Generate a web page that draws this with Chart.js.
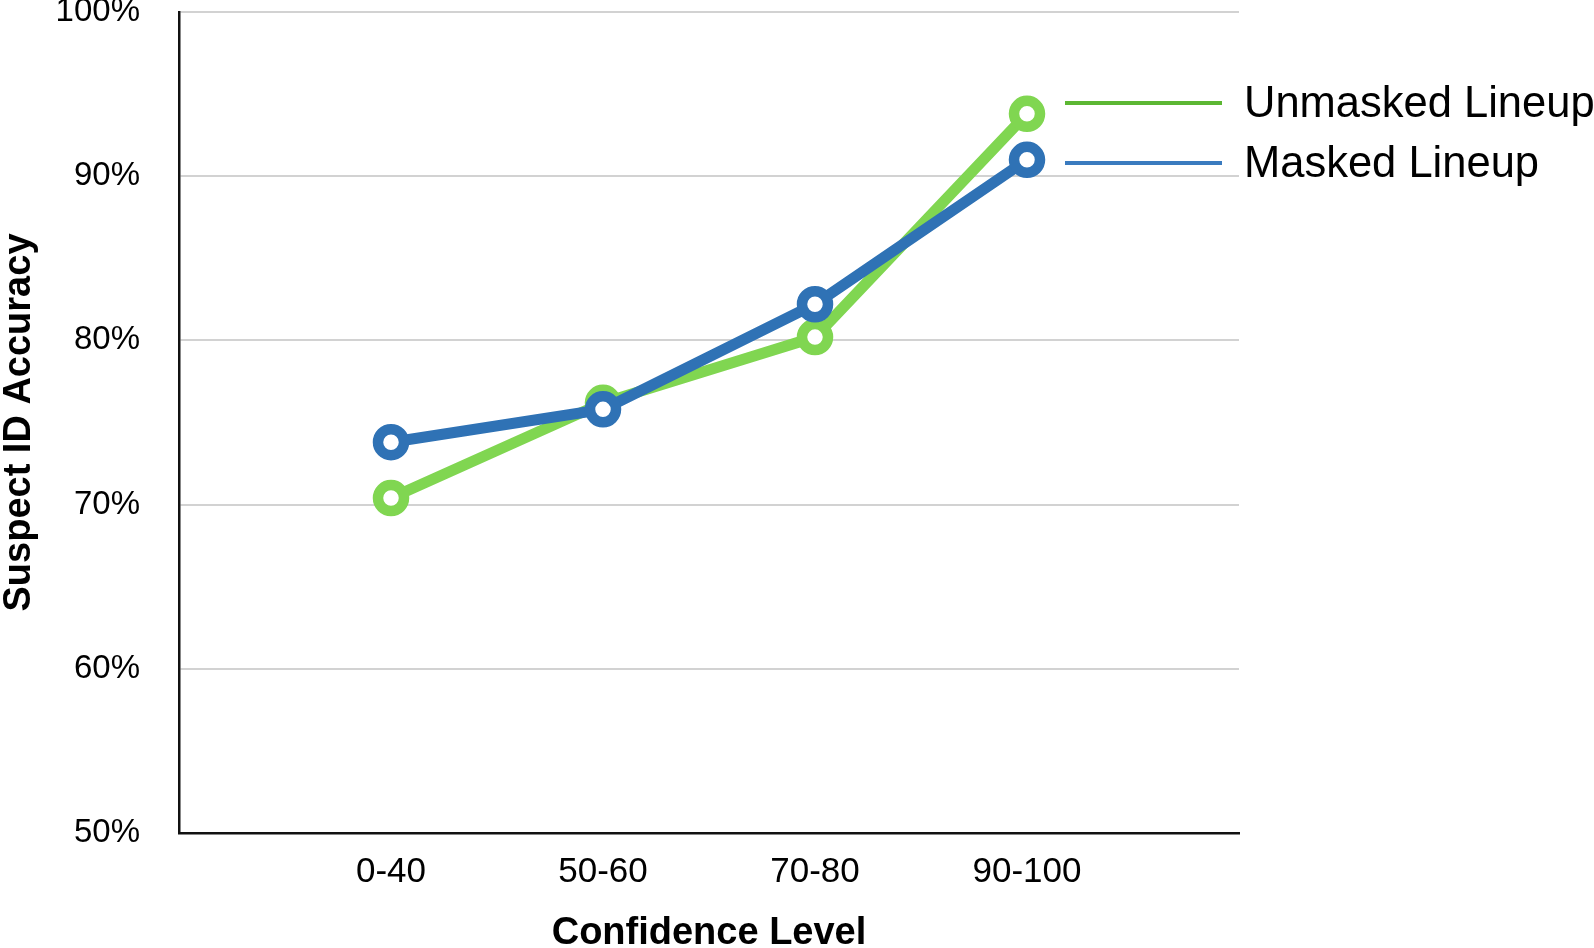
<!DOCTYPE html>
<html>
<head>
<meta charset="utf-8">
<script src="https://cdn.jsdelivr.net/npm/chart.js@4/dist/chart.umd.min.js"></script>
<style>
  html, body { margin: 0; padding: 0; background: #ffffff; }
  #wrap { width: 1594px; height: 948px; }
</style>
</head>
<body>
<div id="wrap"><canvas id="c" width="1594" height="948"></canvas></div>
<script>
// ---- data ----
const categories = ['0-40', '50-60', '70-80', '90-100'];
const unmaskedValues = [70.4, 76.2, 80.2, 93.8];
const maskedValues = [73.8, 75.8, 82.2, 91.0];
const yTickValues = [50, 60, 70, 80, 90, 100];
const seriesNames = ['Unmasked Lineup', 'Masked Lineup'];
const xTitle = 'Confidence Level';
const yTitle = 'Suspect ID Accuracy';

// padded category axis: an empty slot on each side
const labels = [''].concat(categories, ['']);
const pad = (arr) => [null].concat(arr, [null]);

const GREEN = '#80d651';
const BLUE = '#2f72b5';
const GREEN_LEGEND = '#5cb733';
const BLUE_LEGEND = '#3a7bbf';
const FONT = '"Liberation Sans", Arial, Helvetica, sans-serif';

const legendPlugin = {
  id: 'sideLegend',
  afterDraw(chart) {
    const ctx = chart.ctx;
    const entries = [
      { text: seriesNames[0], color: GREEN_LEGEND, y: 103 },
      { text: seriesNames[1], color: BLUE_LEGEND, y: 163 }
    ];
    ctx.save();
    entries.forEach(e => {
      ctx.beginPath();
      ctx.strokeStyle = e.color;
      ctx.lineWidth = 4;
      ctx.moveTo(1065, e.y);
      ctx.lineTo(1222, e.y);
      ctx.stroke();
      ctx.fillStyle = '#000';
      ctx.font = '43.5px ' + FONT;
      ctx.textAlign = 'left';
      ctx.textBaseline = 'middle';
      ctx.fillText(e.text, 1244, e.y + 2);
    });
    ctx.restore();
  }
};

new Chart(document.getElementById('c'), {
  type: 'line',
  data: {
    labels: labels,
    datasets: [
      {
        label: seriesNames[0],
        data: pad(unmaskedValues),
        borderColor: GREEN,
        backgroundColor: GREEN,
        borderWidth: 11,
        pointRadius: 13,
        pointHoverRadius: 13,
        pointBorderWidth: 10.5,
        pointBackgroundColor: '#ffffff',
        pointBorderColor: GREEN,
        tension: 0,
        order: 1
      },
      {
        label: seriesNames[1],
        data: pad(maskedValues),
        borderColor: BLUE,
        backgroundColor: BLUE,
        borderWidth: 11,
        pointRadius: 13,
        pointHoverRadius: 13,
        pointBorderWidth: 10.5,
        pointBackgroundColor: '#ffffff',
        pointBorderColor: BLUE,
        tension: 0,
        order: 0
      }
    ]
  },
  options: {
    responsive: false,
    animation: false,
    devicePixelRatio: 1,
    layout: { autoPadding: false, padding: { top: 12, right: 355, left: 0, bottom: 0 } },
    plugins: {
      legend: { display: false },
      tooltip: { enabled: false },
      title: { display: false }
    },
    scales: {
      x: {
        type: 'category',
        offset: false,
        grid: { display: false, drawTicks: false },
        border: { display: true, color: '#111111', width: 2.5 },
        ticks: {
          color: '#000',
          font: { family: FONT, size: 35, lineHeight: 1.2 },
          padding: 18,
          autoSkip: false,
          maxRotation: 0
        },
        title: {
          display: true,
          text: xTitle,
          color: '#000',
          font: { family: FONT, size: 38, weight: 'bold', lineHeight: 28 / 38 },
          padding: { top: 0, bottom: 0 }
        },
        afterFit: (s) => { s.height = 115; s.paddingLeft = 0; s.paddingRight = 0; }
      },
      y: {
        type: 'linear',
        min: 50,
        max: 100,
        afterBuildTicks: (s) => { s.ticks = yTickValues.map(v => ({ value: v })); },
        grid: { color: '#d2d2d2', lineWidth: 2, drawTicks: true, tickLength: 39, tickColor: 'rgba(0,0,0,0)' },
        border: { display: true, color: '#111111', width: 2.5 },
        ticks: {
          color: '#000',
          font: { family: FONT, size: 33, lineHeight: 1.2 },
          padding: 0,
          callback: (v) => v + '%'
        },
        title: {
          display: true,
          text: yTitle,
          color: '#000',
          font: { family: FONT, size: 38, weight: 'bold', lineHeight: 40 / 38 },
          padding: { top: 0, bottom: 0 }
        },
        afterFit: (s) => { s.width = 179; s.paddingTop = 0; s.paddingBottom = 0; }
      }
    }
  },
  plugins: [legendPlugin]
});
</script>
</body>
</html>
